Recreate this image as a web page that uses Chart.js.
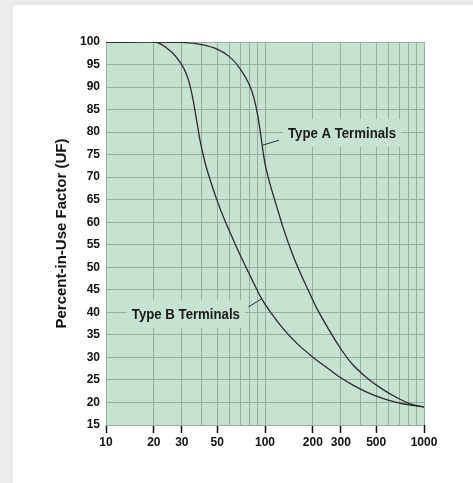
<!DOCTYPE html>
<html>
<head>
<meta charset="utf-8">
<script src="https://cdn.jsdelivr.net/npm/chart.js@4"></script>
<style>
  html, body { margin:0; padding:0; background:#ededed; }
  #card { position:absolute; left:13px; top:5px; width:480px; height:500px; background:#fff; box-shadow:0 0 6px rgba(0,0,0,0.08); }
  #wrap { position:absolute; left:0; top:0; width:473px; height:483px; }
</style>
</head>
<body>
<div id="card"></div>
<div id="wrap"><canvas id="chart"></canvas></div>
<script>
// DATA
const typeA_x = [10, 20, 30, 40, 50, 60, 70, 80, 85, 90, 94, 97, 100, 106, 113, 122, 130, 150, 166, 190, 211, 250, 296, 350, 436, 550, 673, 818, 1000];
const typeA_y = [100, 100, 99.9, 99.4, 98.4, 96.7, 94.0, 90.4, 87.7, 83.7, 79.4, 75.9, 73.0, 69.3, 65.9, 62.0, 58.8, 52.6, 48.9, 44.4, 41.0, 36.4, 32.2, 28.7, 25.5, 22.9, 21.1, 19.7, 19.0];
const typeB_x = [10, 15, 18, 20, 22, 24, 26.5, 29, 31, 33, 35, 37, 39, 42, 45, 50, 55, 60, 70, 82, 95, 110, 130, 160, 201, 250, 296, 360, 436, 550, 673, 820, 1000];
const typeB_y = [100, 100, 100.3, 100.1, 99.6, 98.7, 97.4, 95.7, 94.0, 91.6, 87.8, 83.0, 78.2, 73.2, 69.6, 64.8, 61.0, 57.9, 52.6, 47.6, 43.1, 39.7, 36.4, 33.0, 30.0, 27.5, 25.6, 23.8, 22.3, 20.9, 20.0, 19.4, 19.0];
const xGridTicks = [10,20,30,40,50,60,70,80,90,100,200,300,400,500,600,700,800,900,1000];
const xLabelTicks = [10,20,30,50,100,200,300,500,1000];

// annotation labels (text, text centre, leader line from/to in data units)
const notes = [
  {text:'Type A Terminals', x:305, y:79.8, from:[96.6,77.1], to:[122.5,78.2]},
  {text:'Type B Terminals', x:31.8, y:39.6, from:[78.6,41.2], to:[95.3,43.0]}
];

const FONT = "'Liberation Sans', Arial, Helvetica, sans-serif";
const PLOT_BG = '#c6e2d0';
const GRID = '#95ae9f';

const toPts = (xs, ys) => xs.map((x,i)=>({x:x, y:ys[i]}));

const plotBg = {
  id:'plotBg',
  beforeDraw(chart){
    const {ctx, chartArea:a} = chart;
    ctx.save();
    ctx.fillStyle = PLOT_BG;
    ctx.fillRect(a.left, a.top, a.right-a.left, a.bottom-a.top);
    ctx.restore();
  }
};

const noteLabels = {
  id:'noteLabels',
  beforeDatasetsDraw(chart){
    const {ctx} = chart;
    const xs = chart.scales.x, ys = chart.scales.y;
    const squeeze = 0.88;
    ctx.save();
    ctx.font = "bold 15px " + FONT;
    ctx.textAlign = 'center';
    ctx.textBaseline = 'middle';
    notes.forEach(n=>{
      const cx = xs.getPixelForValue(n.x), cy = ys.getPixelForValue(n.y);
      const w = ctx.measureText(n.text).width * squeeze;
      ctx.fillStyle = PLOT_BG;
      ctx.fillRect(cx - w/2 - 5, cy - 14, w + 10, 28);
      ctx.save();
      ctx.translate(cx, cy);
      ctx.scale(squeeze, 1);
      ctx.fillStyle = '#1a1a1a';
      ctx.fillText(n.text, 0, 1);
      ctx.restore();
      ctx.strokeStyle = '#333';
      ctx.lineWidth = 1;
      ctx.beginPath();
      ctx.moveTo(xs.getPixelForValue(n.from[0]), ys.getPixelForValue(n.from[1]));
      ctx.lineTo(xs.getPixelForValue(n.to[0]), ys.getPixelForValue(n.to[1]));
      ctx.stroke();
    });
    ctx.restore();
  }
};

new Chart(document.getElementById('chart'), {
  type:'line',
  data:{
    datasets:[
      {label:'Type A Terminals', data:toPts(typeA_x, typeA_y)},
      {label:'Type B Terminals', data:toPts(typeB_x, typeB_y)}
    ]
  },
  options:{
    responsive:true,
    maintainAspectRatio:false,
    animation:false,
    layout:{padding:{left:52.6, top:42, right:49, bottom:28}},
    elements:{
      point:{radius:0},
      line:{borderColor:'#2b2b2b', borderWidth:1.3, cubicInterpolationMode:'monotone', fill:false}
    },
    plugins:{legend:{display:false}, tooltip:{enabled:false}},
    scales:{
      x:{
        type:'logarithmic', min:10, max:1000,
        afterBuildTicks(scale){ scale.ticks = xGridTicks.map(v=>({value:v})); },
        afterFit(scale){ scale.height = 30; },
        border:{display:false},
        grid:{
          color:GRID, lineWidth:1, drawTicks:true, tickLength:8, tickWidth:1.5,
          tickColor: c => xLabelTicks.includes(c.tick && c.tick.value) ? '#111' : 'rgba(0,0,0,0)'
        },
        ticks:{
          autoSkip:false, maxRotation:0, padding:2, color:'#111',
          font:{family:FONT, size:12, weight:'bold'},
          callback: v => xLabelTicks.includes(v) ? String(v) : ''
        }
      },
      y:{
        min:15, max:100,
        afterFit(scale){ scale.width = 53.4; },
        border:{display:false},
        grid:{color:GRID, lineWidth:1, drawTicks:false},
        ticks:{
          stepSize:5, padding:6, color:'#111',
          font:{family:FONT, size:12, weight:'bold'}
        },
        title:{
          display:true, text:'Percent-in-Use Factor (UF)', color:'#111',
          padding:{top:0, bottom:0},
          font:{family:FONT, size:15, weight:'bold'}
        }
      }
    }
  },
  plugins:[plotBg, noteLabels]
});
</script>
</body>
</html>
